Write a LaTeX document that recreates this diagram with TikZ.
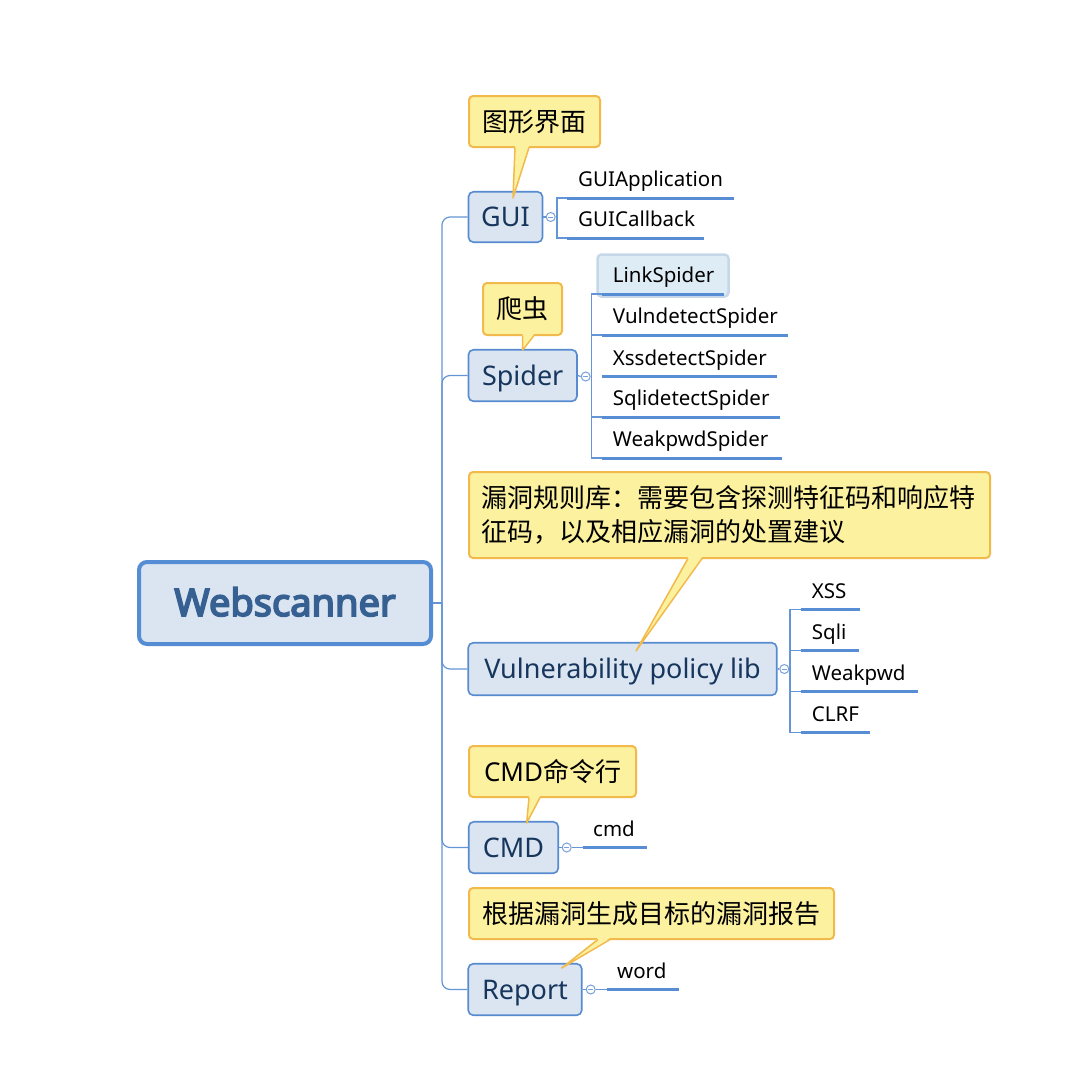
\documentclass[tikz,border=0pt]{standalone}
\usepackage{fontspec}
\setmainfont{Noto Sans}
\newfontfamily\cjk{Noto Sans CJK SC}
\newfontfamily\rootfont[FakeBold=4.5]{Noto Sans}
\definecolor{boxfill}{RGB}{219,229,241}
\definecolor{boxline}{RGB}{86,139,208}
\definecolor{rootline}{RGB}{84,141,212}
\definecolor{branchtext}{RGB}{23,54,93}
\definecolor{roottext}{RGB}{54,96,146}
\definecolor{notefill}{RGB}{252,241,158}
\definecolor{noteline}{RGB}{242,186,76}
\definecolor{ulinecol}{RGB}{86,141,212}
\definecolor{linkcol}{RGB}{100,150,215}
\definecolor{foldcol}{RGB}{120,160,220}
\definecolor{hlfill}{RGB}{222,237,245}
\definecolor{hlline}{RGB}{198,216,232}
\begin{document}
\begin{tikzpicture}[x=1pt,y=-1pt,
  box/.style={draw=boxline, fill=boxfill, rounded corners=5pt, line width=1.6pt, inner sep=0pt, text=branchtext, text height=19pt, text depth=0pt, font=\fontsize{27pt}{30pt}\selectfont},
  rootbox/.style={draw=rootline, fill=boxfill, rounded corners=8pt, line width=4pt, inner sep=0pt, text=roottext, text height=26pt, text depth=0pt, font=\rootfont\fontsize{38pt}{40pt}\selectfont},
  leaf/.style={anchor=south west, inner ysep=11pt, text depth=0pt, font=\fontsize{20.5pt}{24pt}\selectfont, text=black},
  uline/.style={draw=ulinecol, line width=3pt},
  thin/.style={draw=linkcol, line width=1.2pt},
  note/.style={draw=noteline, fill=notefill, rounded corners=4pt, line width=2pt, inner sep=0pt, font=\fontsize{26pt}{34pt}\selectfont\cjk, text=black},
  ptrfill/.style={fill=notefill},
  ptrline/.style={draw=noteline, line width=1.5pt, line join=round},
  fold/.style={circle, draw=foldcol, fill=white, line width=1pt, minimum size=9pt, inner sep=0pt,
    path picture={\draw[foldcol, line width=0.8pt] ([xshift=-2.5pt]path picture bounding box.center) -- ([xshift=2.5pt]path picture bounding box.center);}},
]
\useasboundingbox (0,0) rectangle (1067,1071);
\fill[white] (0,0) rectangle (1067,1071);

% main nodes
\node[rootbox, minimum width=292pt, minimum height=82pt] (root) at (285,603) {Webscanner};
\node[box, minimum width=74pt, minimum height=50.5pt] (gui) at (505.5,217) {GUI};
\node[box, minimum width=108.5pt, minimum height=51.5pt] (spider) at (522.7,375.5) {Spider};
\node[box, minimum width=308.5pt, minimum height=52.5pt] (vuln) at (622.5,669) {Vulnerability policy lib};
\node[box, minimum width=89.5pt, minimum height=51.5pt] (cmd) at (513.5,847.5) {CMD};
\node[box, minimum width=113.5pt, minimum height=51.5pt] (report) at (525,989.5) {Report};

% trunk
\coordinate (hub) at (442,603);
\draw[thin] (root.east) -- (hub);
\foreach \b in {gui,spider,vuln,cmd,report}
  \draw[thin, rounded corners=8pt] (\b.west) -| (hub);

% GUI children
\node[fold] (guif) at (550.7,217) {};
\coordinate (guib) at (557,217);
\draw[thin] (gui.east) -- (guif.west);
\draw[thin] (guif.east) -- (guib);
\node[leaf, inner xsep=11pt] (ga) at (567,198) {GUIApplication};
\node[leaf, inner xsep=11pt] (gc) at (567,238) {GUICallback};
\draw[thin] (ga.south west) -- ++(-10,0) |- (gc.south west);
\draw[uline] (ga.south west) -- ++(167,0);
\draw[uline] (gc.south west) -- ++(137,0);

% Spider children
\node[fold] (spf) at (585.7,376.5) {};
\coordinate (spb) at (591.7,376.5);
\draw[thin] (spider.east) -- (spf.west);
\draw[thin] (spf.east) -- (spb);
\node[draw=hlline, fill=hlfill, line width=2.5pt, rounded corners=4pt, minimum width=131pt, minimum height=42pt, inner sep=0pt] (hl) at (663,275.5) {};
\node[leaf, inner xsep=11pt] (s1) at (601.7,294) {LinkSpider};
\node[leaf, inner xsep=11pt] (s2) at (601.7,335) {VulndetectSpider};
\node[leaf, inner xsep=11pt] (s3) at (601.7,376.5) {XssdetectSpider};
\node[leaf, inner xsep=11pt] (s4) at (601.7,417) {SqlidetectSpider};
\node[leaf, inner xsep=11pt] (s5) at (601.7,458) {WeakpwdSpider};
\draw[thin] (s1.south west) -- ++(-10,0) |- (s5.south west);
\draw[thin] (s2.south west) -- ++(-10,0);
\draw[thin] (s4.south west) -- ++(-10,0);
\draw[uline] (s1.south west) -- ++(122,0);
\draw[uline] (s2.south west) -- ++(186,0);
\draw[uline] (s3.south west) -- ++(175,0);
\draw[uline] (s4.south west) -- ++(178,0);
\draw[uline] (s5.south west) -- ++(180,0);

% Vulnerability children
\node[fold] (vf) at (784.3,669) {};
\coordinate (vb) at (790,669);
\draw[thin] (vuln.east) -- (vf.west);
\draw[thin] (vf.east) -- (vb);
\node[leaf, inner xsep=11pt] (v1) at (800.7,609.5) {XSS};
\node[leaf, inner xsep=11pt] (v2) at (800.7,650.5) {Sqli};
\node[leaf, inner xsep=11pt] (v3) at (800.7,691.5) {Weakpwd};
\node[leaf, inner xsep=11pt] (v4) at (800.7,732.5) {CLRF};
\draw[thin] (v1.south west) -- ++(-10.7,0) |- (v4.south west);
\draw[thin] (v2.south west) -- ++(-10.7,0);
\draw[thin] (v3.south west) -- ++(-10.7,0);
\draw[uline] (v1.south west) -- ++(59,0);
\draw[uline] (v2.south west) -- ++(58,0);
\draw[uline] (v3.south west) -- ++(117,0);
\draw[uline] (v4.south west) -- ++(69,0);

% CMD child
\node[fold] (cf) at (566.7,847.5) {};
\draw[thin] (cmd.east) -- (cf.west);
\node[leaf, inner xsep=10.3pt] (c1) at (582.7,847.5) {cmd};
\draw[thin] (cf.east) -- (c1.south west);
\draw[uline] (c1.south west) -- ++(64.6,0);

% Report child
\node[fold] (rf) at (590.7,989.5) {};
\draw[thin] (report.east) -- (rf.west);
\node[leaf, inner xsep=10.3pt] (r1) at (606.7,989.5) {word};
\draw[thin] (rf.east) -- (r1.south west);
\draw[uline] (r1.south west) -- ++(72.6,0);

% callouts
\node[note, minimum width=131pt, minimum height=51pt] (n1) at (534.5,121.5) {图形界面};
\fill[ptrfill] (515,146) -- (513,198) -- (529,146) -- cycle;
\draw[ptrline] (515,147.5) -- (513,198) -- (529,147.5);

\node[note, minimum width=79pt, minimum height=52pt] (n2) at (522.5,309) {爬虫};
\fill[ptrfill] (522.7,334) -- (522.7,350) -- (534,334) -- cycle;
\draw[ptrline] (522.7,335.5) -- (522.7,350) -- (534,335.5);

\node[note, minimum width=521pt, minimum height=86pt, text width=497pt, align=left] (n3) at (729.5,515) {漏洞规则库：需要包含探测特征码和响应特\\征码，以及相应漏洞的处置建议};
\fill[ptrfill] (688,557) -- (636,651) -- (702,557) -- cycle;
\draw[ptrline] (688,558.5) -- (636,651) -- (702,558.5);

\node[note, minimum width=167pt, minimum height=51pt] (n4) at (552.5,771.5) {{\rmfamily CMD}命令行};
\fill[ptrfill] (529,796) -- (526.7,823) -- (540,796) -- cycle;
\draw[ptrline] (529,797.5) -- (526.7,823) -- (540,797.5);

\node[note, minimum width=365pt, minimum height=51pt] (n5) at (651.5,913.5) {根据漏洞生成目标的漏洞报告};
\fill[ptrfill] (598,938) -- (561.7,968) -- (610,938) -- cycle;
\draw[ptrline] (598,939.5) -- (561.7,968) -- (610,939.5);
\end{tikzpicture}
\end{document}
